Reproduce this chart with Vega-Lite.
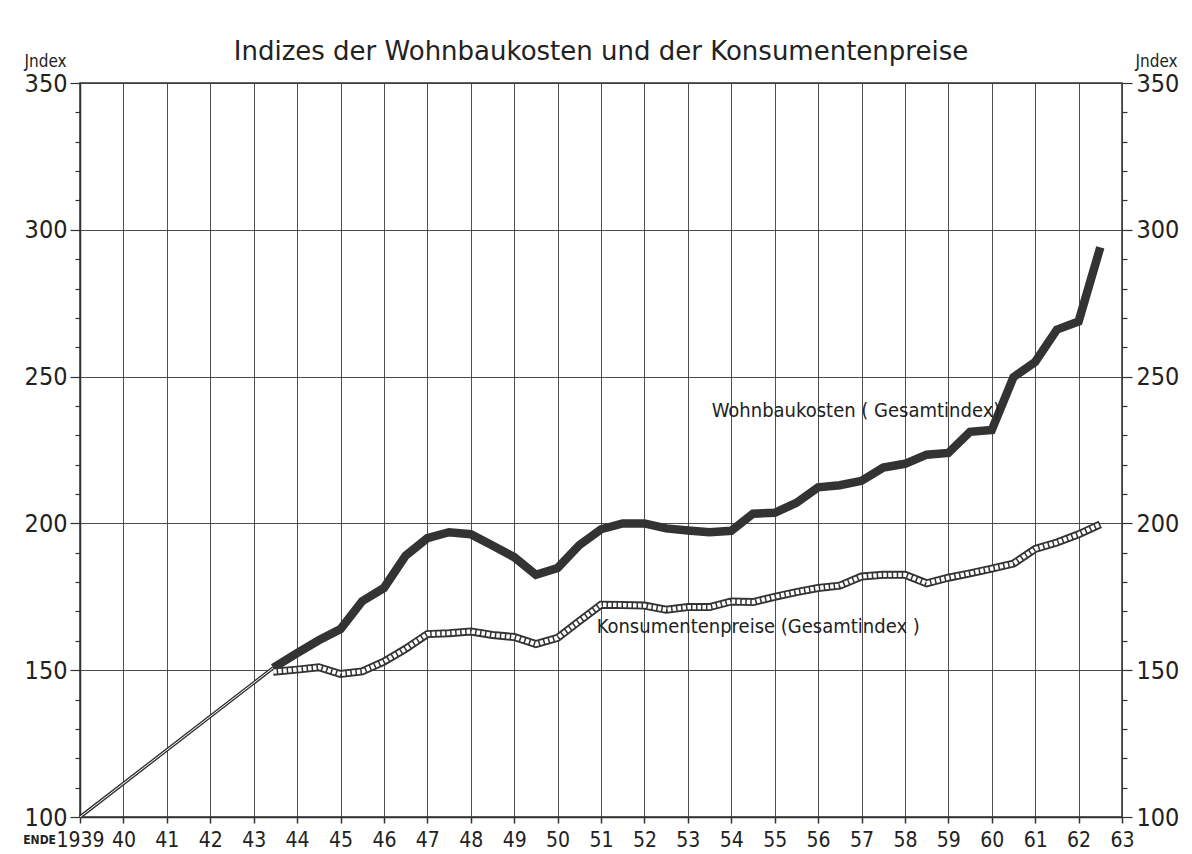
{
  "$schema": "https://vega.github.io/schema/vega-lite/v6.json",
  "autosize": "none",
  "width": 1042,
  "height": 734,
  "padding": {"left": 80, "top": 83, "right": 70, "bottom": 37},
  "background": "#ffffff",
  "title": {
    "text": "Indizes der Wohnbaukosten und der Konsumentenpreise",
    "fontSize": 26,
    "font": "DejaVu Sans",
    "fontWeight": "normal",
    "color": "#222222",
    "anchor": "middle",
    "offset": 22,
    "dy": 35
  },
  "config": {
    "view": {"stroke": "#333333", "strokeWidth": 1.5},
    "font": "DejaVu Sans Condensed"
  },
  "datasets": {
    "lines": [
      {"series": "Gemeinsam", "year": 1939, "value": 100},
      {"series": "Gemeinsam", "year": 1943.45, "value": 150.8},
      {"series": "Wohnbaukosten", "year": 1943.45, "value": 150.8},
      {"series": "Wohnbaukosten", "year": 1944, "value": 155.8},
      {"series": "Wohnbaukosten", "year": 1944.5, "value": 160.2},
      {"series": "Wohnbaukosten", "year": 1945, "value": 164},
      {"series": "Wohnbaukosten", "year": 1945.5, "value": 173.5},
      {"series": "Wohnbaukosten", "year": 1946, "value": 178},
      {"series": "Wohnbaukosten", "year": 1946.5, "value": 189},
      {"series": "Wohnbaukosten", "year": 1947, "value": 195},
      {"series": "Wohnbaukosten", "year": 1947.5, "value": 197},
      {"series": "Wohnbaukosten", "year": 1948, "value": 196.3},
      {"series": "Wohnbaukosten", "year": 1948.5, "value": 192.5},
      {"series": "Wohnbaukosten", "year": 1949, "value": 188.5},
      {"series": "Wohnbaukosten", "year": 1949.5, "value": 182.5},
      {"series": "Wohnbaukosten", "year": 1950, "value": 184.8},
      {"series": "Wohnbaukosten", "year": 1950.5, "value": 192.6},
      {"series": "Wohnbaukosten", "year": 1951, "value": 198},
      {"series": "Wohnbaukosten", "year": 1951.5, "value": 200},
      {"series": "Wohnbaukosten", "year": 1952, "value": 200},
      {"series": "Wohnbaukosten", "year": 1952.5, "value": 198.3},
      {"series": "Wohnbaukosten", "year": 1953, "value": 197.6},
      {"series": "Wohnbaukosten", "year": 1953.5, "value": 197},
      {"series": "Wohnbaukosten", "year": 1954, "value": 197.5},
      {"series": "Wohnbaukosten", "year": 1954.5, "value": 203.3},
      {"series": "Wohnbaukosten", "year": 1955, "value": 203.6},
      {"series": "Wohnbaukosten", "year": 1955.5, "value": 207},
      {"series": "Wohnbaukosten", "year": 1956, "value": 212.3},
      {"series": "Wohnbaukosten", "year": 1956.5, "value": 213},
      {"series": "Wohnbaukosten", "year": 1957, "value": 214.5},
      {"series": "Wohnbaukosten", "year": 1957.5, "value": 219},
      {"series": "Wohnbaukosten", "year": 1958, "value": 220.3},
      {"series": "Wohnbaukosten", "year": 1958.5, "value": 223.4},
      {"series": "Wohnbaukosten", "year": 1959, "value": 224},
      {"series": "Wohnbaukosten", "year": 1959.5, "value": 231.2},
      {"series": "Wohnbaukosten", "year": 1960, "value": 231.8},
      {"series": "Wohnbaukosten", "year": 1960.5, "value": 249.8},
      {"series": "Wohnbaukosten", "year": 1961, "value": 255},
      {"series": "Wohnbaukosten", "year": 1961.5, "value": 266},
      {"series": "Wohnbaukosten", "year": 1962, "value": 268.8},
      {"series": "Wohnbaukosten", "year": 1962.5, "value": 294},
      {"series": "Konsumentenpreise", "year": 1943.45, "value": 149.5},
      {"series": "Konsumentenpreise", "year": 1944, "value": 150.2},
      {"series": "Konsumentenpreise", "year": 1944.5, "value": 151},
      {"series": "Konsumentenpreise", "year": 1945, "value": 148.7},
      {"series": "Konsumentenpreise", "year": 1945.5, "value": 149.6},
      {"series": "Konsumentenpreise", "year": 1946, "value": 152.9},
      {"series": "Konsumentenpreise", "year": 1946.5, "value": 157.3},
      {"series": "Konsumentenpreise", "year": 1947, "value": 162.3},
      {"series": "Konsumentenpreise", "year": 1947.5, "value": 162.6},
      {"series": "Konsumentenpreise", "year": 1948, "value": 163.2},
      {"series": "Konsumentenpreise", "year": 1948.5, "value": 162},
      {"series": "Konsumentenpreise", "year": 1949, "value": 161.3},
      {"series": "Konsumentenpreise", "year": 1949.5, "value": 158.9},
      {"series": "Konsumentenpreise", "year": 1950, "value": 161},
      {"series": "Konsumentenpreise", "year": 1950.5, "value": 166.7},
      {"series": "Konsumentenpreise", "year": 1951, "value": 172.3},
      {"series": "Konsumentenpreise", "year": 1951.5, "value": 172.2},
      {"series": "Konsumentenpreise", "year": 1952, "value": 172},
      {"series": "Konsumentenpreise", "year": 1952.5, "value": 170.6},
      {"series": "Konsumentenpreise", "year": 1953, "value": 171.5},
      {"series": "Konsumentenpreise", "year": 1953.5, "value": 171.5},
      {"series": "Konsumentenpreise", "year": 1954, "value": 173.4},
      {"series": "Konsumentenpreise", "year": 1954.5, "value": 173.2},
      {"series": "Konsumentenpreise", "year": 1955, "value": 175},
      {"series": "Konsumentenpreise", "year": 1955.5, "value": 176.6},
      {"series": "Konsumentenpreise", "year": 1956, "value": 178},
      {"series": "Konsumentenpreise", "year": 1956.5, "value": 178.8},
      {"series": "Konsumentenpreise", "year": 1957, "value": 181.9},
      {"series": "Konsumentenpreise", "year": 1957.5, "value": 182.5},
      {"series": "Konsumentenpreise", "year": 1958, "value": 182.5},
      {"series": "Konsumentenpreise", "year": 1958.5, "value": 179.6},
      {"series": "Konsumentenpreise", "year": 1959, "value": 181.5},
      {"series": "Konsumentenpreise", "year": 1959.5, "value": 183},
      {"series": "Konsumentenpreise", "year": 1960, "value": 184.6},
      {"series": "Konsumentenpreise", "year": 1960.5, "value": 186.3},
      {"series": "Konsumentenpreise", "year": 1961, "value": 191.3},
      {"series": "Konsumentenpreise", "year": 1961.5, "value": 193.5},
      {"series": "Konsumentenpreise", "year": 1962, "value": 196.3},
      {"series": "Konsumentenpreise", "year": 1962.5, "value": 199.7}
    ],
    "labels": [
      {"label": "Wohnbaukosten ( Gesamtindex)", "year": 1953.55, "value": 238.4},
      {"label": "Konsumentenpreise (Gesamtindex )", "year": 1950.9, "value": 164.6}
    ],
    "ende": [
      {"label": "ENDE", "year": 1939, "value": 100}
    ]
  },
  "layer": [
    {
      "data": {"name": "lines"},
      "transform": [{"filter": "datum.series == 'Gemeinsam'"}],
      "mark": {"type": "line", "color": "#333333", "strokeWidth": 3.5},
      "encoding": {
        "x": {
          "field": "year", "type": "quantitative",
          "scale": {"domain": [1939, 1963], "nice": false, "zero": false},
          "axis": {
            "values": [1939,1940,1941,1942,1943,1944,1945,1946,1947,1948,1949,1950,1951,1952,1953,1954,1955,1956,1957,1958,1959,1960,1961,1962,1963],
            "labelExpr": "datum.value == 1939 ? '1939' : substring(toString(datum.value), 2, 4)",
            "title": null,
            "grid": true, "gridColor": "#3a3a3a", "gridWidth": 1, "gridOpacity": 0.9,
            "domainColor": "#333333", "domainWidth": 1.5,
            "tickColor": "#333333", "tickSize": 6, "tickWidth": 1.5,
            "labelFontSize": 21, "labelColor": "#222222", "labelPadding": 6,
            "labelOverlap": false, "labelFlush": false,
            "labelFont": "DejaVu Sans Condensed"
          }
        },
        "y": {
          "field": "value", "type": "quantitative",
          "scale": {"domain": [100, 350], "nice": false, "zero": false},
          "axis": {
            "orient": "left",
            "values": [100,110,120,130,140,150,160,170,180,190,200,210,220,230,240,250,260,270,280,290,300,310,320,330,340,350],
            "labelExpr": "datum.value % 50 == 0 ? datum.label : ''",
            "grid": true, "gridColor": "#3a3a3a", "gridWidth": 1,
            "gridOpacity": {"condition": {"test": "datum.value % 50 == 0", "value": 0.9}, "value": 0},
            "tickSize": {"condition": {"test": "datum.value % 50 == 0", "value": 10}, "value": 5},
            "tickColor": "#333333", "tickWidth": 1.2,
            "domainColor": "#333333", "domainWidth": 1.5,
            "labelFontSize": 25, "labelColor": "#222222", "labelPadding": 3,
            "labelOverlap": false, "labelFlush": false,
            "labelFont": "DejaVu Sans Condensed",
            "title": "Jndex", "titleAngle": 0, "titleX": -35, "titleY": -17,
            "titleAlign": "center", "titleBaseline": "alphabetic",
            "titleFontSize": 17, "titleFontWeight": "normal", "titleColor": "#222222",
            "titleFont": "DejaVu Sans Condensed"
          }
        }
      }
    },
    {
      "data": {"name": "lines"},
      "transform": [{"filter": "datum.series == 'Gemeinsam'"}],
      "mark": {"type": "line", "color": "#ffffff", "strokeWidth": 1},
      "encoding": {
        "x": {"field": "year", "type": "quantitative"},
        "y": {"field": "value", "type": "quantitative", "axis": null}
      }
    },
    {
      "data": {"name": "lines"},
      "transform": [{"filter": "datum.series == 'Wohnbaukosten'"}],
      "mark": {"type": "line", "color": "#333333", "strokeWidth": 8.5, "strokeJoin": "miter"},
      "encoding": {
        "x": {"field": "year", "type": "quantitative"},
        "y": {"field": "value", "type": "quantitative", "axis": null}
      }
    },
    {
      "data": {"name": "lines"},
      "transform": [{"filter": "datum.series == 'Konsumentenpreise'"}],
      "mark": {"type": "line", "color": "#333333", "strokeWidth": 8},
      "encoding": {
        "x": {"field": "year", "type": "quantitative"},
        "y": {"field": "value", "type": "quantitative", "axis": null}
      }
    },
    {
      "data": {"name": "lines"},
      "transform": [{"filter": "datum.series == 'Konsumentenpreise'"}],
      "mark": {"type": "line", "color": "#ffffff", "strokeWidth": 4.3, "strokeDash": [3.5, 1.5]},
      "encoding": {
        "x": {"field": "year", "type": "quantitative"},
        "y": {"field": "value", "type": "quantitative", "axis": null}
      }
    },
    {
      "data": {"name": "labels"},
      "mark": {"type": "text", "align": "left", "baseline": "middle", "fontSize": 20, "font": "DejaVu Sans Condensed", "color": "#222222"},
      "encoding": {
        "x": {"field": "year", "type": "quantitative"},
        "y": {"field": "value", "type": "quantitative", "axis": null},
        "text": {"field": "label"}
      }
    },
    {
      "data": {"name": "ende"},
      "mark": {"type": "text", "align": "right", "baseline": "middle", "fontSize": 12, "fontWeight": "bold", "font": "DejaVu Sans Condensed", "color": "#222222", "dx": -24, "dy": 23},
      "encoding": {
        "x": {"field": "year", "type": "quantitative"},
        "y": {
          "field": "value", "type": "quantitative",
          "axis": {
            "orient": "right",
            "values": [100,110,120,130,140,150,160,170,180,190,200,210,220,230,240,250,260,270,280,290,300,310,320,330,340,350],
            "labelExpr": "datum.value % 50 == 0 ? datum.label : ''",
            "grid": false,
            "tickSize": {"condition": {"test": "datum.value % 50 == 0", "value": 10}, "value": 5},
            "tickColor": "#333333", "tickWidth": 1.2,
            "domain": false,
            "labelFontSize": 25, "labelColor": "#222222", "labelPadding": 4,
            "labelOverlap": false, "labelFlush": false,
            "labelFont": "DejaVu Sans Condensed",
            "title": "Jndex", "titleAngle": 0, "titleX": 34, "titleY": -17,
            "titleAlign": "center", "titleBaseline": "alphabetic",
            "titleFontSize": 17, "titleFontWeight": "normal", "titleColor": "#222222",
            "titleFont": "DejaVu Sans Condensed"
          }
        },
        "text": {"field": "label"}
      }
    }
  ],
  "resolve": {"axis": {"y": "independent"}}
}
